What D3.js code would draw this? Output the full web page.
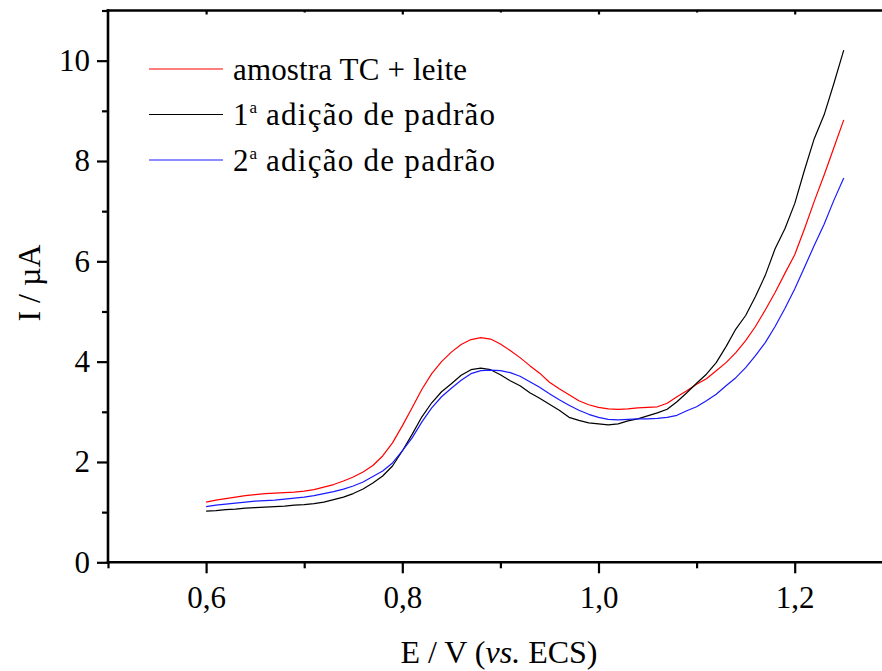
<!DOCTYPE html>
<html>
<head>
<meta charset="utf-8">
<script src="https://cdn.jsdelivr.net/npm/d3@7"></script>
<style>
  html, body { margin: 0; padding: 0; background: #fff; }
  svg { display: block; font-family: "Liberation Serif", "Times New Roman", serif; }
</style>
</head>
<body>
<svg id="chart" width="882" height="671"></svg>
<script>
// Potential (V vs. ECS) shared by all three voltammograms
const potential = d3.range(0, 66).map(i => +(0.60 + i * 0.01).toFixed(2));

// Current (µA) — sample TC + milk
const amostra = [
  1.20, 1.24, 1.27, 1.30, 1.33, 1.35, 1.37, 1.38, 1.39, 1.40,
  1.42, 1.45, 1.50, 1.55, 1.62, 1.70, 1.80, 1.93, 2.12, 2.38,
  2.72, 3.08, 3.45, 3.76, 4.00, 4.19, 4.34, 4.44, 4.48, 4.45,
  4.35, 4.22, 4.08, 3.92, 3.77, 3.59, 3.46, 3.34, 3.22, 3.14,
  3.09, 3.06, 3.05, 3.06, 3.08, 3.09, 3.10, 3.17, 3.30, 3.42,
  3.55, 3.66, 3.82, 3.98, 4.18, 4.42, 4.70, 5.03, 5.38, 5.76,
  6.13, 6.65, 7.20, 7.72, 8.27, 8.82
];

// Current (µA) — 1st standard addition
const adicao1 = [
  1.02, 1.03, 1.05, 1.06, 1.08, 1.09, 1.10, 1.11, 1.12, 1.14,
  1.15, 1.17, 1.20, 1.25, 1.30, 1.37, 1.46, 1.58, 1.72, 1.92,
  2.22, 2.55, 2.90, 3.18, 3.40, 3.56, 3.73, 3.84, 3.87, 3.84,
  3.74, 3.62, 3.52, 3.38, 3.27, 3.15, 3.03, 2.89, 2.83, 2.78,
  2.76, 2.74, 2.76, 2.82, 2.86, 2.92, 2.98, 3.05, 3.20, 3.38,
  3.57, 3.75, 3.98, 4.30, 4.65, 4.92, 5.30, 5.72, 6.25, 6.65,
  7.15, 7.82, 8.45, 8.92, 9.55, 10.21
];

// Current (µA) — 2nd standard addition
const adicao2 = [
  1.11, 1.14, 1.16, 1.18, 1.20, 1.22, 1.23, 1.24, 1.26, 1.28,
  1.30, 1.33, 1.37, 1.41, 1.46, 1.52, 1.60, 1.71, 1.82, 1.98,
  2.22, 2.48, 2.80, 3.08, 3.30, 3.47, 3.63, 3.76, 3.82, 3.83,
  3.82, 3.78, 3.71, 3.60, 3.49, 3.36, 3.24, 3.13, 3.03, 2.95,
  2.89, 2.85, 2.84, 2.85, 2.86, 2.86, 2.87, 2.89, 2.93, 3.02,
  3.10, 3.22, 3.35, 3.52, 3.68, 3.88, 4.12, 4.38, 4.70, 5.06,
  5.45, 5.88, 6.32, 6.74, 7.22, 7.66
];

const seriesNames = ["amostra TC + leite", "adição de padrão", "adição de padrão"];
const seriesOrdinals = ["", "1", "2"];
const seriesColors = ["#ff0000", "#000000", "#1a1aff"];
const seriesValues = [amostra, adicao1, adicao2];

const xMajorTicks = [0.6, 0.8, 1.0, 1.2];
const xMinorTicks = [0.5, 0.7, 0.9, 1.1];
const yMajorTicks = [0, 2, 4, 6, 8, 10];
const yMinorTicks = [1, 3, 5, 7, 9, 11];

const svg = d3.select("#chart");

const x = d3.scaleLinear().domain([0.5, 1.3]).range([108, 108 + 0.8 * 981]);
const y = d3.scaleLinear().domain([0, 11]).range([562.3, 10.5]);

const fmtX = d => d3.format(".1f")(d).replace(".", ",");

// Frame lines
const frame = svg.append("g").attr("stroke", "#000").attr("stroke-width", 2.6).attr("fill", "none");
frame.append("line").attr("x1", x(0.5)).attr("x2", x(1.3)).attr("y1", y(0)).attr("y2", y(0)).attr("stroke-linecap", "square");
frame.append("line").attr("x1", x(0.5)).attr("x2", x(1.3)).attr("y1", y(11)).attr("y2", y(11)).attr("stroke-linecap", "square");
frame.append("line").attr("x1", x(0.5)).attr("x2", x(0.5)).attr("y1", y(0)).attr("y2", y(11)).attr("stroke-linecap", "square");

function styleAxis(g, fontSize) {
  g.select(".domain").remove();
  g.selectAll(".tick line").attr("stroke", "#000").attr("stroke-width", 2.2);
  g.selectAll(".tick text").attr("fill", "#000").attr("font-size", fontSize)
    .attr("font-family", "'Liberation Serif', serif");
}

// Bottom axis
svg.append("g").attr("transform", `translate(0,${y(0)})`)
  .call(d3.axisBottom(x).tickValues(xMajorTicks).tickFormat(fmtX).tickSize(11).tickPadding(13))
  .call(g => styleAxis(g, 31));
svg.append("g").attr("transform", `translate(0,${y(0)})`)
  .call(d3.axisBottom(x).tickValues(xMinorTicks).tickFormat("").tickSize(6))
  .call(g => styleAxis(g, 31));

// Top axis (ticks only, pointing inward)
svg.append("g").attr("transform", `translate(0,${y(11)})`)
  .call(d3.axisBottom(x).tickValues(xMajorTicks).tickFormat("").tickSize(4))
  .call(g => styleAxis(g, 31));
svg.append("g").attr("transform", `translate(0,${y(11)})`)
  .call(d3.axisBottom(x).tickValues(xMinorTicks.slice(1)).tickFormat("").tickSize(2))
  .call(g => styleAxis(g, 31));

// Left axis
svg.append("g").attr("transform", `translate(${x(0.5)},0)`)
  .call(d3.axisLeft(y).tickValues(yMajorTicks).tickFormat(d3.format("d")).tickSize(11).tickPadding(7))
  .call(g => styleAxis(g, 31));
svg.append("g").attr("transform", `translate(${x(0.5)},0)`)
  .call(d3.axisLeft(y).tickValues(yMinorTicks).tickFormat("").tickSize(6))
  .call(g => styleAxis(g, 31));

// Curves
const line = d3.line()
  .x((d, i) => x(potential[i]))
  .y(d => y(d));

svg.append("g").selectAll("path")
  .data(seriesValues)
  .join("path")
  .attr("d", d => line(d))
  .attr("fill", "none")
  .attr("stroke", (d, i) => seriesColors[i])
  .attr("stroke-width", 1.2)
  .attr("stroke-linejoin", "round");

// Legend
const legend = svg.append("g");
const legendRows = [0, 1, 2];
legendRows.forEach(i => {
  const lineY = 69 + i * 45.5;
  legend.append("line")
    .attr("x1", 149).attr("x2", 223)
    .attr("y1", lineY).attr("y2", lineY)
    .attr("stroke", seriesColors[i]).attr("stroke-width", 1.2);
  const t = legend.append("text")
    .attr("x", 233).attr("y", lineY + 10.5)
    .attr("font-size", 31).attr("fill", "#000");
  if (seriesOrdinals[i]) {
    t.append("tspan").text(seriesOrdinals[i]);
    t.append("tspan").attr("font-size", 17).attr("dy", -12).attr("dx", 1).text("a");
    t.append("tspan").attr("dy", 12)
      .attr("textLength", 238).attr("lengthAdjust", "spacing")
      .text(" " + seriesNames[i]);
  } else {
    t.attr("textLength", 234).attr("lengthAdjust", "spacing").text(seriesNames[i]);
  }
});

// Axis titles
const xTitle = svg.append("text")
  .attr("x", 499).attr("y", 663)
  .attr("text-anchor", "middle")
  .attr("font-size", 32).attr("fill", "#000");
xTitle.append("tspan").text("E / V (");
xTitle.append("tspan").attr("font-style", "italic").text("vs.");
xTitle.append("tspan").text(" ECS)");

svg.append("text")
  .attr("transform", "translate(40,283) rotate(-90)")
  .attr("text-anchor", "middle")
  .attr("font-size", 32).attr("fill", "#000")
  .text("I / µA");
</script>
</body>
</html>
